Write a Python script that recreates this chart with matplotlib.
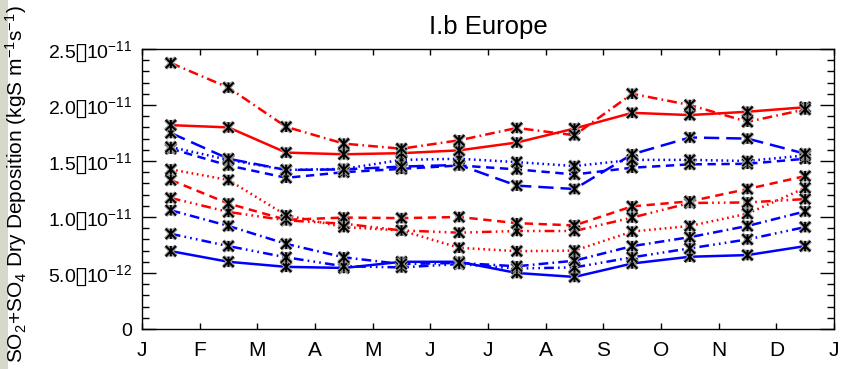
import numpy as np
import matplotlib
matplotlib.use("Agg")
import matplotlib.pyplot as plt
from matplotlib.path import Path
from matplotlib.patches import Rectangle
import matplotlib.patheffects as pe

plt.rcParams['font.family'] = ['Liberation Sans', 'DejaVu Sans']
plt.rcParams['mathtext.fontset'] = 'custom'
plt.rcParams['mathtext.rm'] = 'Liberation Sans'
plt.rcParams['mathtext.it'] = 'Liberation Sans:italic'
plt.rcParams['mathtext.fallback'] = 'stix'
plt.rcParams['lines.scale_dashes'] = False

# monthly dry deposition, units of 1e-12 kgS m-2 s-1
month_labels = ['J', 'F', 'M', 'A', 'M', 'J', 'J', 'A', 'S', 'O', 'N', 'D', 'J']

red_dashdot = [23.75, 21.55, 18.05, 16.55, 16.1, 16.85, 17.95, 17.3, 21.0, 20.0, 18.5, 19.6]
red_solid = [18.2, 18.0, 15.75, 15.6, 15.7, 15.95, 16.65, 17.9, 19.3, 19.1, 19.4, 19.8]
red_dotted = [14.25, 13.3, 10.15, 9.1, 8.8, 7.25, 6.95, 7.0, 8.7, 9.2, 10.3, 12.6]
red_dashed = [13.3, 11.2, 9.75, 9.95, 9.9, 10.0, 9.45, 9.25, 10.95, 11.4, 12.5, 13.65]
red_dash3dot = [11.7, 10.45, 9.7, 9.4, 8.8, 8.6, 8.75, 8.75, 9.95, 11.25, 11.3, 11.6]

blue_longdash = [17.5, 15.2, 14.2, 14.25, 14.5, 14.65, 12.8, 12.5, 15.6, 17.1, 17.0, 15.65]
blue_dotted = [16.25, 15.1, 14.2, 14.3, 15.1, 15.2, 14.9, 14.55, 15.1, 15.1, 15.0, 15.5]
blue_dashed = [16.1, 14.6, 13.5, 14.0, 14.3, 14.6, 14.25, 13.8, 14.4, 14.7, 14.75, 15.2]
blue_dashdot = [10.6, 9.2, 7.6, 6.4, 5.8, 5.9, 5.6, 6.1, 7.4, 8.2, 9.2, 10.5]
blue_dash3dot = [8.5, 7.4, 6.4, 5.6, 5.5, 5.8, 5.4, 5.5, 6.4, 7.2, 8.0, 9.1]
blue_solid = [6.95, 6.0, 5.55, 5.45, 6.0, 6.0, 5.0, 4.65, 5.85, 6.45, 6.6, 7.4]

ytick_vals = [0, 5, 10, 15, 20, 25]
ytick_text = ['0', '5.0$\u25af$10$^{-12}$', '1.0$\u25af$10$^{-11}$', '1.5$\u25af$10$^{-11}$',
              '2.0$\u25af$10$^{-11}$', '2.5$\u25af$10$^{-11}$']

# line styles
dotted = (0, (1.2, 2.6))
dashed = (0, (6, 4))
dashdot = (0, (7, 3, 1.2, 3))
dash3dot = (0, (7, 3, 1.2, 3, 1.2, 3, 1.2, 3))
longdash = (0, (11, 5))

series = [
    (blue_solid, 'blue', '-'),
    (blue_dash3dot, 'blue', dash3dot),
    (blue_dashdot, 'blue', dashdot),
    (blue_dashed, 'blue', dashed),
    (blue_dotted, 'blue', dotted),
    (blue_longdash, 'blue', longdash),
    (red_dash3dot, 'red', dash3dot),
    (red_dashed, 'red', dashed),
    (red_dotted, 'red', dotted),
    (red_solid, 'red', '-'),
    (red_dashdot, 'red', dashdot),
]

# IDL style asterisk: vertical bar plus an x
star = Path([(0, -1), (0, 1), (-1, -1), (1, 1), (-1, 1), (1, -1)],
            [Path.MOVETO, Path.LINETO, Path.MOVETO, Path.LINETO, Path.MOVETO, Path.LINETO])

fig = plt.figure(figsize=(8.43, 3.69), dpi=100)
fig.patches.append(Rectangle((0, 0), 8 / 843, 1, transform=fig.transFigure,
                             facecolor='#d6d9c9', edgecolor='none', zorder=0))
ax = fig.add_axes([142 / 843, 1 - 329 / 369, 692 / 843, 280 / 369])

x = np.arange(12) + 0.5
for vals, col, ls in series:
    ax.plot(x, np.array(vals) * 1e-12, color=col, linestyle=ls, lw=1.8, zorder=2)
for vals, col, ls in series:
    ax.plot(x, np.array(vals) * 1e-12, linestyle='none', marker=star, ms=7.5,
            mec='black', mew=1.4, zorder=3,
            path_effects=[pe.withStroke(linewidth=3, foreground='0.6')])

ax.set_xlim(0, 12)
ax.set_ylim(0, 2.5e-11)
ax.set_xticks(np.arange(13), month_labels)
ax.set_yticks(np.array(ytick_vals) * 1e-12, ytick_text)
ax.set_yticks(np.arange(0, 26) * 1e-12, minor=True)
ax.tick_params(axis='x', direction='in', length=4, width=1, top=True, pad=9, labelsize=15)
ax.tick_params(axis='y', which='major', direction='in', length=10, width=1, right=True,
               pad=7, labelsize=14)
ax.tick_params(axis='y', which='minor', direction='in', length=5, width=1, right=True)
for s in ax.spines.values():
    s.set_linewidth(1)

ax.set_title('I.b Europe', fontsize=18.5, pad=11)
fig.text(16 / 843, 0.5, 'SO$_2$+SO$_4$ Dry Deposition (kgS m$^{-1}$s$^{-1}$)',
         rotation=90, ha='center', va='center', fontsize=15)

fig.savefig('out.png', dpi=100)
